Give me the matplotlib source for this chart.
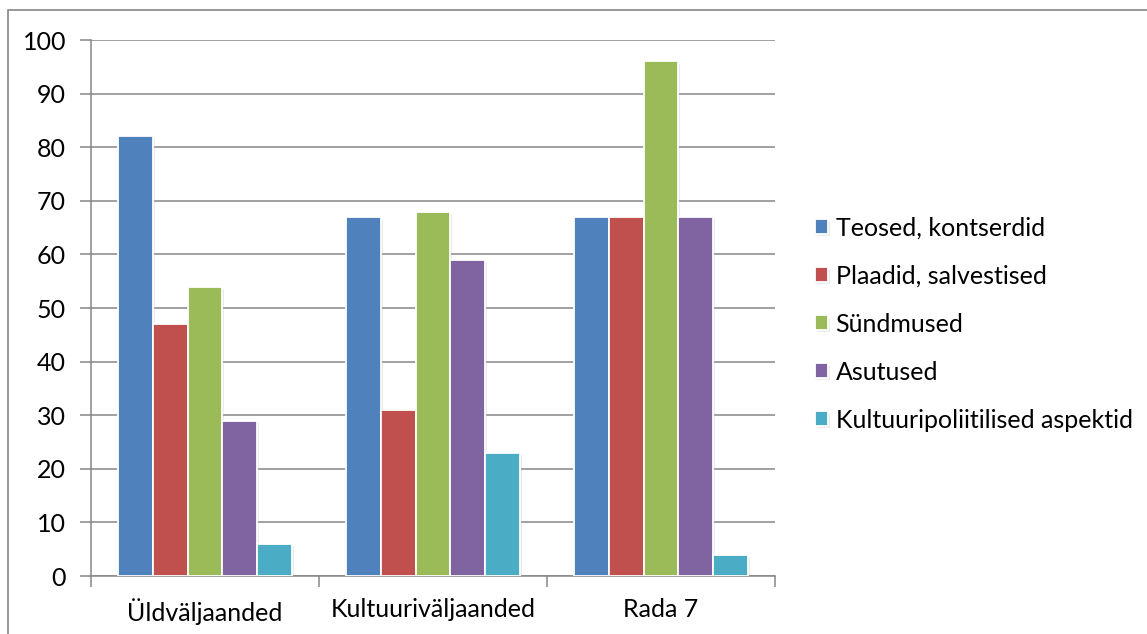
import matplotlib
matplotlib.use("Agg")
import matplotlib.pyplot as plt
import matplotlib.patheffects as pe
from matplotlib.patches import Rectangle
import numpy as np

# -----------------------------
# DATA
# -----------------------------
categories = ["Üldväljaanded", "Kultuuriväljaanded", "Rada 7"]
series_names = ["Teosed, kontserdid", "Plaadid, salvestised", "Sündmused",
                "Asutused", "Kultuuripoliitilised aspektid"]
teosed = [82, 67, 67]
plaadid = [47, 31, 67]
syndmused = [54, 68, 96]
asutused = [29, 59, 67]
kultuuripol = [6, 23, 4]
y_ticks = [0, 10, 20, 30, 40, 50, 60, 70, 80, 90, 100]

values = [teosed, plaadid, syndmused, asutused, kultuuripol]
colors = ["#4F81BD", "#C0504D", "#9BBB59", "#8064A2", "#4BACC6"]

plt.rcParams['font.family'] = ['Lato', 'DejaVu Sans']

fig = plt.figure(figsize=(11.47, 6.34), dpi=100)
ax = fig.add_axes([91 / 1147, 58 / 634, 684 / 1147, 536 / 634])

# outer chart border (only top/left visible in the original)
fig.patches.append(Rectangle((8 / 1147, -0.1), 1.2, (634 - 10) / 634 + 0.1,
                             transform=fig.transFigure, fill=False,
                             edgecolor="#868686", linewidth=1.2))

x = np.arange(len(categories))
w = 0.152
shadow = [pe.SimplePatchShadow(offset=(1.5, -1.5), shadow_rgbFace="#bbbbbb", alpha=0.3), pe.Normal()]
for i, (vals, name, col) in enumerate(zip(values, series_names, colors)):
    bars = ax.bar(x + (i - 2) * w, vals, width=w, color=col, edgecolor="white",
                  linewidth=1.3, label=name, zorder=3)
    for b in bars:
        b.set_path_effects(shadow)

ax.set_xlim(-0.5, 2.5)
ax.set_ylim(0, 100)
ax.set_yticks(y_ticks)
ax.yaxis.grid(True, color="#868686", linewidth=1.1, zorder=0)
ax.set_axisbelow(True)

for s in ["top", "right"]:
    ax.spines[s].set_visible(False)
for s in ["left", "bottom"]:
    ax.spines[s].set_color("#868686")
    ax.spines[s].set_linewidth(1.1)

ax.tick_params(axis="y", length=8, width=1.1, color="#868686", pad=10, labelsize=18)
ax.set_xticks(x)
ax.set_xticklabels(categories)
ax.tick_params(axis="x", which="major", length=0, pad=16, labelsize=18)
ax.set_xticks([-0.5, 0.5, 1.5, 2.5], minor=True)
ax.tick_params(axis="x", which="minor", length=8, width=1.1, color="#868686")

ax.legend(loc="center left", bbox_to_anchor=(1.025, 0.47), frameon=False,
          fontsize=18, handlelength=0.52, handleheight=0.52, handletextpad=0.32,
          labelspacing=1.0)

fig.savefig("out.png", dpi=100)
